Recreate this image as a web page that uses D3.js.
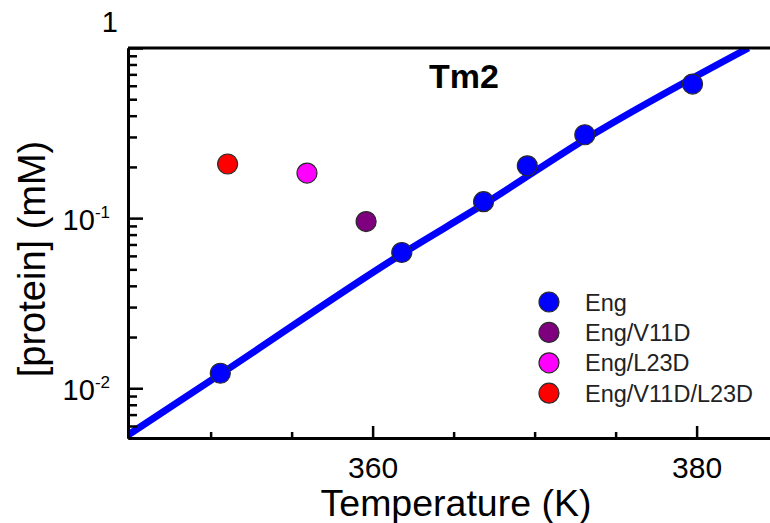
<!DOCTYPE html>
<html>
<head>
<meta charset="utf-8">
<script src="https://cdn.jsdelivr.net/npm/d3@7"></script>
<style>
  body { margin: 0; background: #fff; }
  svg { display: block; font-family: "Liberation Sans", Arial, Helvetica, sans-serif; }
</style>
</head>
<body>
<svg width="770" height="523"></svg>
<script>
// Eng (fitted series)
const engT = [350.6, 361.8, 366.85, 369.55, 373.1, 379.75];
const engC = [0.01225, 0.0628, 0.125, 0.203, 0.309, 0.614];

// mutants, one point each
const mutantNames = ['Eng/V11D', 'Eng/L23D', 'Eng/V11D/L23D'];
const mutantT = [359.6, 355.95, 351.05];
const mutantC = [0.0955, 0.184, 0.208];

// fit curve, points
const fitT = [344.9, 350.6, 361.8, 367.0, 373.1, 383.2];
const fitC = [0.00531, 0.0121, 0.0616, 0.123, 0.29, 1.0];

const seriesNames = ['Eng', 'Eng/V11D', 'Eng/L23D', 'Eng/V11D/L23D'];
const seriesColors = ['#0000ff', '#7f007f', '#ff00ff', '#ff0000'];

const xMajor = [360, 380];
const xMinor = [350, 355, 365, 370, 375, 385];
const yMajor = [0.01, 0.1, 1];
const yMinor = [2, 3, 4, 5, 6, 7, 8, 9].flatMap((m) => [m * 0.001, m * 0.01, m * 0.1])
  .filter((v) => v > 0.0051 && v < 1);

const svg = d3.select('svg');
const plotLeft = 128, plotTop = 48, plotBottom = 438;

const x = d3.scaleLinear().domain([344.9, 385]).range([plotLeft, plotLeft + 40.1 * 16.2]);
const y = d3.scaleLog().domain([0.0051, 1]).range([plotBottom, plotTop]);

svg.append('defs').append('clipPath').attr('id', 'plotClip')
  .append('rect')
  .attr('x', plotLeft).attr('y', plotTop)
  .attr('width', 770 - plotLeft).attr('height', plotBottom - plotTop);

// fit line
const line = d3.line()
  .x((d) => x(d[0]))
  .y((d) => y(d[1]))
  .curve(d3.curveMonotoneX);
svg.append('path')
  .datum(d3.zip(fitT, fitC))
  .attr('clip-path', 'url(#plotClip)')
  .attr('d', line)
  .attr('fill', 'none')
  .attr('stroke', '#0000ff')
  .attr('stroke-width', 7);

// top frame line
svg.append('line')
  .attr('x1', plotLeft).attr('x2', 770)
  .attr('y1', plotTop).attr('y2', plotTop)
  .attr('stroke', '#000').attr('stroke-width', 3);

// axes: minor then major ticks, pointing inward
function styleAxis(g) {
  g.select('.domain').attr('stroke', '#000').attr('stroke-width', 3);
  g.selectAll('.tick line').attr('stroke', '#000').attr('stroke-width', 2.5);
}

svg.append('g')
  .attr('transform', `translate(0,${plotBottom})`)
  .call(d3.axisBottom(x).tickValues(xMinor).tickSize(-6).tickSizeOuter(0).tickFormat(''))
  .call(styleAxis);

const xAxis = svg.append('g')
  .attr('transform', `translate(0,${plotBottom})`)
  .call(d3.axisBottom(x).tickValues(xMajor).tickSize(-12).tickSizeOuter(0).tickFormat(d3.format('d')))
  .call(styleAxis);
xAxis.selectAll('.tick text')
  .attr('y', 40).attr('dy', 0)
  .attr('font-size', 30)
  .attr('fill', '#000');

svg.append('g')
  .attr('transform', `translate(${plotLeft},0)`)
  .call(d3.axisLeft(y).tickValues(yMinor).tickSize(-9).tickSizeOuter(0).tickFormat(''))
  .call(styleAxis);

const yAxis = svg.append('g')
  .attr('transform', `translate(${plotLeft},0)`)
  .call(d3.axisLeft(y).tickValues(yMajor).tickSize(-15).tickSizeOuter(0).tickFormat(''))
  .call(styleAxis);

yAxis.selectAll('.tick text').remove();
yAxis.selectAll('.tick').each(function (d) {
  const g = d3.select(this);
  const exp = Math.round(Math.log10(d));
  const t = g.append('text')
    .attr('text-anchor', 'end')
    .attr('fill', '#000')
    .attr('font-size', 29);
  if (exp === 0) {
    t.attr('x', -10).attr('y', -17).text('1');
  } else {
    t.attr('x', -18).attr('y', 11);
    t.append('tspan').text('10');
    t.append('tspan').attr('font-size', 17).attr('dy', -12).text(`-${-exp}`);
  }
});

// axis titles
svg.append('text')
  .attr('x', 456).attr('y', 516)
  .attr('text-anchor', 'middle')
  .attr('font-size', 37.5)
  .attr('fill', '#000')
  .text('Temperature (K)');

svg.append('text')
  .attr('transform', 'translate(45,259) rotate(-90)')
  .attr('text-anchor', 'middle')
  .attr('font-size', 38)
  .attr('fill', '#000')
  .text('[protein] (mM)');

// panel label
svg.append('text')
  .attr('x', 464).attr('y', 88)
  .attr('text-anchor', 'middle')
  .attr('font-size', 34)
  .attr('font-weight', 'bold')
  .attr('fill', '#000')
  .text('Tm2');

// points
const pts = engT.map((t, i) => ({ t, c: engC[i], color: seriesColors[0] }))
  .concat(mutantT.map((t, i) => ({
    t, c: mutantC[i], color: seriesColors[seriesNames.indexOf(mutantNames[i])],
  })));

svg.append('g')
  .selectAll('circle')
  .data(pts)
  .enter()
  .append('circle')
  .attr('cx', (d) => x(d.t))
  .attr('cy', (d) => y(d.c))
  .attr('r', 10)
  .attr('fill', (d) => d.color)
  .attr('stroke', '#2a2a2a')
  .attr('stroke-width', 1.2);

// legend
const legend = svg.append('g')
  .attr('transform', 'translate(549,302)')
  .selectAll('g')
  .data(seriesNames)
  .enter()
  .append('g')
  .attr('transform', (d, i) => `translate(0,${i * 30.4})`);

legend.append('circle')
  .attr('r', 10)
  .attr('fill', (d, i) => seriesColors[i])
  .attr('stroke', '#2a2a2a')
  .attr('stroke-width', 1.2);

legend.append('text')
  .attr('x', 36).attr('y', 8.5)
  .attr('font-size', 23.5)
  .attr('fill', '#222')
  .text((d) => d);
</script>
</body>
</html>
